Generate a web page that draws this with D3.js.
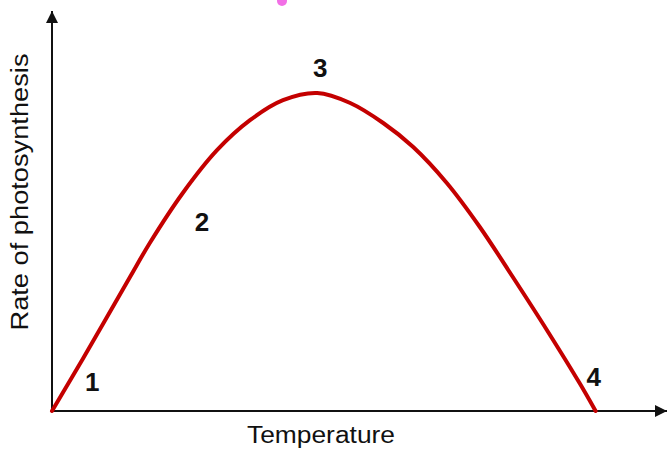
<!DOCTYPE html>
<html>
<head>
<meta charset="utf-8">
<script src="https://cdn.jsdelivr.net/npm/d3@7"></script>
<style>
  body { margin: 0; background: #fff; }
  svg { display: block; }
  text { font-family: 'Liberation Sans', Arial, sans-serif; fill: #111; }
</style>
</head>
<body>
<script>
// curve (temperature, rate), arbitrary units 0-100
const temperature = [0, 5.2, 13, 16.3, 21.8, 27.5, 33, 38.5, 44.2, 49.7, 55.2, 60.2, 65.8, 71.3, 76.8, 82.5, 88, 90.6]
const rate = [0, 13.2, 33.5, 42, 54.5, 65.2, 72.7, 77.7, 79.5, 77, 72, 66, 57, 46, 33.5, 20.2, 6.8, 0]

// numbered stages along the curve
const stageLabels = ['1', '2', '3', '4']
const stageTemp = [6.7, 25, 44.7, 90.3]
const stageRate = [7.2, 47.2, 85.7, 8.5]

const xTitle = 'Temperature'
const yTitle = 'Rate of photosynthesis'

const width = 668
const height = 450

const x = d3.scaleLinear().domain([0, 100]).range([52, 652])
const y = d3.scaleLinear().domain([0, 100]).range([411, 11])

const svg = d3.select('body')
  .append('svg')
  .attr('width', width)
  .attr('height', height)

// arrow heads
const defs = svg.append('defs')
defs.append('marker')
  .attr('id', 'arrow')
  .attr('viewBox', '0 0 12 12')
  .attr('refX', 12)
  .attr('refY', 6)
  .attr('markerWidth', 12)
  .attr('markerHeight', 12)
  .attr('markerUnits', 'userSpaceOnUse')
  .attr('orient', 'auto')
  .append('path')
  .attr('d', 'M0,0 L12,6 L0,12 Z')
  .attr('fill', '#111')

// small pink mark at the top edge
svg.append('circle')
  .attr('cx', 282)
  .attr('cy', 1)
  .attr('r', 5)
  .attr('fill', '#f26fe6')

const axes = svg.append('g').attr('class', 'axes')

axes.append('line')
  .attr('x1', x(0)).attr('y1', y(0))
  .attr('x2', x(102.5)).attr('y2', y(0))
  .attr('stroke', '#111')
  .attr('stroke-width', 2)
  .attr('marker-end', 'url(#arrow)')

axes.append('line')
  .attr('x1', x(0)).attr('y1', y(0))
  .attr('x2', x(0)).attr('y2', y(100))
  .attr('stroke', '#111')
  .attr('stroke-width', 2)
  .attr('marker-end', 'url(#arrow)')

const points = temperature.map((t, i) => [t, rate[i]])

const line = d3.line()
  .x(d => x(d[0]))
  .y(d => y(d[1]))
  .curve(d3.curveCatmullRom.alpha(0.5))

svg.append('path')
  .datum(points)
  .attr('d', line)
  .attr('fill', 'none')
  .attr('stroke', '#c40000')
  .attr('stroke-width', 4)
  .attr('stroke-linecap', 'round')

svg.append('g')
  .selectAll('text')
  .data(stageLabels)
  .enter()
  .append('text')
  .attr('x', (d, i) => x(stageTemp[i]))
  .attr('y', (d, i) => y(stageRate[i]))
  .attr('text-anchor', 'middle')
  .attr('dominant-baseline', 'central')
  .attr('font-size', 26)
  .attr('font-weight', 'bold')
  .text(d => d)

svg.append('text')
  .attr('x', 321)
  .attr('y', 443)
  .attr('text-anchor', 'middle')
  .attr('font-size', 23)
  .attr('textLength', 148)
  .attr('lengthAdjust', 'spacingAndGlyphs')
  .text(xTitle)

svg.append('text')
  .attr('transform', 'translate(28,192) rotate(-90)')
  .attr('text-anchor', 'middle')
  .attr('font-size', 23)
  .attr('textLength', 277)
  .attr('lengthAdjust', 'spacingAndGlyphs')
  .text(yTitle)
</script>
</body>
</html>
